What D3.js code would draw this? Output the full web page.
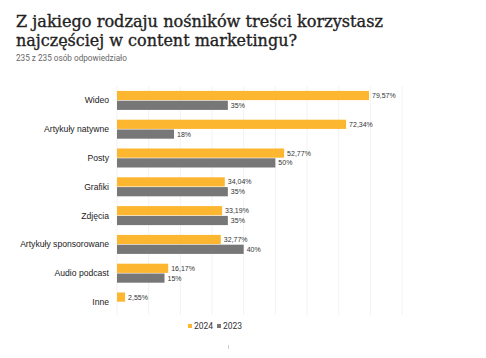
<!DOCTYPE html>
<html>
<head>
<meta charset="utf-8">
<script src="https://cdn.jsdelivr.net/npm/d3@7"></script>
<style>
  body { margin: 0; background: #fff; }
  svg { display: block; }
</style>
</head>
<body>
<div id="chart"></div>
<script>
// Data
var categories = ["Wideo", "Artykuły natywne", "Posty", "Grafiki", "Zdjęcia", "Artykuły sponsorowane", "Audio podcast", "Inne"];
var series = ["2024", "2023"];
var values2024 = [79.57, 72.34, 52.77, 34.04, 33.19, 32.77, 16.17, 2.55];
var values2023 = [35, 18, 50, 35, 35, 40, 15, null];
var gridTicks = [0, 10, 20, 30, 40, 50, 60, 70, 80, 90];

var w = 486, h = 358;
var colors = {"2024": "#fdb62f", "2023": "#777777"};

var svg = d3.select("#chart").append("svg")
  .attr("width", w)
  .attr("height", h);

// Title
var title = svg.append("text")
  .attr("x", 16)
  .attr("y", 27)
  .style("font-family", "'DejaVu Serif', serif")
  .style("font-size", "16.5px")
  .attr("fill", "#222")
  .attr("stroke", "#222")
  .attr("stroke-width", 0.35);
title.append("tspan").attr("x", 16).attr("y", 27)
  .attr("textLength", 367).attr("lengthAdjust", "spacingAndGlyphs")
  .text("Z jakiego rodzaju nośników treści korzystasz");
title.append("tspan").attr("x", 16).attr("y", 46)
  .attr("textLength", 281).attr("lengthAdjust", "spacingAndGlyphs")
  .text("najczęściej w content marketingu?");

svg.append("text")
  .attr("x", 16)
  .attr("y", 61)
  .style("font-family", "Roboto, sans-serif")
  .style("font-size", "8.2px")
  .attr("fill", "#666")
  .text("235 z 235 osób odpowiedziało");

// Scales
var xScale = d3.scaleLinear()
  .domain([0, 79.57])
  .range([117, 369]);

var yScale = d3.scaleBand()
  .domain(categories)
  .range([86, 316.4])
  .paddingInner(0.34)
  .paddingOuter(0.17);

var ySub = d3.scaleBand()
  .domain(series)
  .range([0, yScale.bandwidth()])
  .paddingInner(0.06);

// Grid lines
svg.append("g").selectAll("line")
  .data(gridTicks)
  .enter()
  .append("line")
  .attr("x1", function(d) { return xScale(d); })
  .attr("x2", function(d) { return xScale(d); })
  .attr("y1", 86)
  .attr("y2", 315)
  .attr("stroke", "#f2f2f2")
  .attr("stroke-width", 1);

// Category labels
svg.append("g").selectAll("text")
  .data(categories)
  .enter()
  .append("text")
  .attr("x", 109)
  .attr("y", function(d) { return yScale(d) + yScale.bandwidth() / 2; })
  .attr("dy", "0.35em")
  .attr("text-anchor", "end")
  .style("font-family", "'Liberation Sans', Arial, sans-serif")
  .style("font-size", "8.6px")
  .attr("fill", "#222")
  .text(function(d) { return d; });

// Bars
var rows = [];
categories.forEach(function(c, i) {
  rows.push({cat: c, s: "2024", v: values2024[i]});
  if (values2023[i] != null) rows.push({cat: c, s: "2023", v: values2023[i]});
});

function fmt(v) {
  return (Math.round(v) === v ? String(v) : v.toFixed(2).replace(".", ",")) + "%";
}

svg.append("g").selectAll("rect")
  .data(rows)
  .enter()
  .append("rect")
  .attr("x", xScale(0))
  .attr("y", function(d) { return yScale(d.cat) + ySub(d.s); })
  .attr("width", function(d) { return xScale(d.v) - xScale(0); })
  .attr("height", ySub.bandwidth())
  .attr("fill", function(d) { return colors[d.s]; });

svg.append("g").selectAll("text")
  .data(rows)
  .enter()
  .append("text")
  .attr("x", function(d) { return xScale(d.v) + 3; })
  .attr("y", function(d) { return yScale(d.cat) + ySub(d.s) + ySub.bandwidth() / 2; })
  .attr("dy", "0.35em")
  .style("font-family", "'Liberation Sans', Arial, sans-serif")
  .style("font-size", "7px")
  .attr("fill", "#333")
  .text(function(d) { return fmt(d.v); });

// Legend
var legend = svg.append("g").attr("transform", "translate(188,326)");
var lx = 0;
series.forEach(function(s) {
  legend.append("rect")
    .attr("x", lx)
    .attr("y", -2)
    .attr("width", 4)
    .attr("height", 4)
    .attr("fill", colors[s]);
  legend.append("text")
    .attr("x", lx + 6)
    .attr("y", 0)
    .attr("dy", "0.35em")
    .style("font-family", "Roboto, sans-serif")
    .style("font-size", "8.5px")
    .attr("fill", "#333")
    .text(s);
  lx += 29;
});

// small tick at bottom
svg.append("line")
  .attr("x1", 228.5).attr("x2", 228.5)
  .attr("y1", 345).attr("y2", 349)
  .attr("stroke", "#ccc");
</script>
</body>
</html>
